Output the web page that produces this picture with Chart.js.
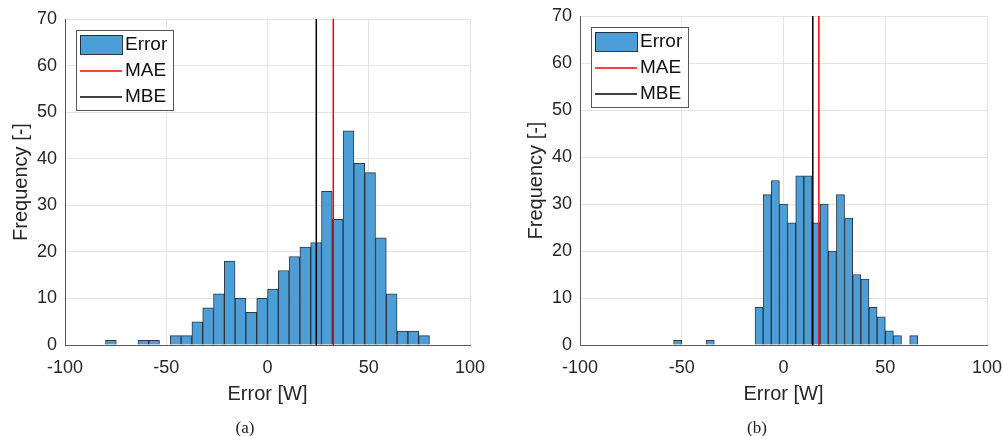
<!DOCTYPE html>
<html><head><meta charset="utf-8">
<script src="https://cdn.jsdelivr.net/npm/chart.js@4"></script>
<style>
html,body{margin:0;padding:0;background:#fff;}
#wrap{position:relative;width:1003px;height:436px;overflow:hidden;background:#fff;}
canvas{position:absolute;left:0;top:0;}
.cap{position:absolute;font-family:"Liberation Serif","DejaVu Serif",serif;font-size:17px;color:#222;transform:translateX(-50%);white-space:nowrap;}
</style></head><body>
<div id="wrap">
<canvas id="ca" width="1003" height="436" style="width:1003px;height:436px"></canvas>
<canvas id="cb" width="1003" height="436" style="width:1003px;height:436px"></canvas>
<div class="cap" style="left:245px;top:418px">(a)</div>
<div class="cap" style="left:757px;top:418px">(b)</div>
</div>
<script>
// (a) histogram: bin centres (bin width 16/3 W) and counts
const binCentersA = [-77.33,-72,-66.67,-61.33,-56,-50.67,-45.33,-40,-34.67,-29.33,-24,-18.67,-13.33,-8,-2.67,2.67,8,13.33,18.67,24,29.33,34.67,40,45.33,50.67,56,61.33,66.67,72,77.33];
const countsA = [1,0,0,1,1,0,2,2,5,8,11,18,10,7,10,12,16,19,21,22,33,27,46,39,37,23,11,3,3,2];
const maeA = 32.5;
const mbeA = 24.1;

// (b) histogram: bin centres (bin width 4 W) and counts
const binCentersB = [-52,-48,-44,-40,-36,-32,-28,-24,-20,-16,-12,-8,-4,0,4,8,12,16,20,24,28,32,36,40,44,48,52,56,60,64];
const countsB = [1,0,0,0,1,0,0,0,0,0,8,32,35,30,26,36,36,26,30,20,32,27,15,14,8,6,3,2,0,2];
const maeB = 17.4;
const mbeB = 14.4;

const xTicks = [-100,-50,0,50,100];
const yTicks = [0,10,20,30,40,50,60,70];
const legendLabels = ['Error','MAE','MBE'];

const FONT = '"Liberation Sans", Arial, sans-serif';
const BAR_FILL = '#4d9dd6';
const BAR_EDGE = 'rgba(25,35,45,0.9)';
const TXT = '#262626';

function legendPlugin(id) {
  return {
    id: 'boxLegend' + id,
    afterDraw(chart) {
      const ctx = chart.ctx, a = chart.chartArea;
      const x = a.left + 11, y = a.top + 11, w = 97, h = 80;
      ctx.save();
      ctx.fillStyle = '#fff';
      ctx.fillRect(x, y, w, h);
      ctx.strokeStyle = '#555';
      ctx.lineWidth = 1;
      ctx.strokeRect(x + 0.5, y + 0.5, w, h);
      ctx.fillStyle = BAR_FILL;
      ctx.fillRect(x + 4, y + 5, 42, 19);
      ctx.strokeStyle = BAR_EDGE;
      ctx.strokeRect(x + 4.5, y + 5.5, 42, 19);
      ctx.lineWidth = 1.5;
      ctx.strokeStyle = '#ff0000';
      ctx.beginPath(); ctx.moveTo(x + 4, y + 41); ctx.lineTo(x + 46, y + 41); ctx.stroke();
      ctx.strokeStyle = '#000';
      ctx.beginPath(); ctx.moveTo(x + 4, y + 67); ctx.lineTo(x + 46, y + 67); ctx.stroke();
      ctx.fillStyle = '#111';
      ctx.font = '19px ' + FONT;
      ctx.textBaseline = 'middle';
      ctx.textAlign = 'left';
      ctx.fillText(legendLabels[0], x + 49, y + 15);
      ctx.fillText(legendLabels[1], x + 49, y + 41);
      ctx.fillText(legendLabels[2], x + 49, y + 67);
      ctx.restore();
    }
  };
}

function makeChart(canvasId, centers, counts, mae, mbe, pad) {
  return new Chart(document.getElementById(canvasId), {
    data: {
      datasets: [
        { type: 'line', label: legendLabels[1], data: [{x: mae, y: 0}, {x: mae, y: 70}],
          borderColor: '#ff0000', borderWidth: 1.5, pointRadius: 0, order: 0 },
        { type: 'line', label: legendLabels[2], data: [{x: mbe, y: 0}, {x: mbe, y: 70}],
          borderColor: '#000000', borderWidth: 1.5, pointRadius: 0, order: 0 },
        { type: 'bar', label: legendLabels[0], data: centers.map((c, i) => ({x: c, y: counts[i]})),
          backgroundColor: BAR_FILL, borderColor: BAR_EDGE, borderWidth: 1, borderSkipped: 'start',
          barPercentage: 1, categoryPercentage: 1, grouped: false, order: 1 }
      ]
    },
    options: {
      responsive: false,
      animation: false,
      devicePixelRatio: 1,
      layout: { padding: pad },
      plugins: { legend: { display: false }, tooltip: { enabled: false } },
      scales: {
        x: {
          type: 'linear', min: -100, max: 100, offset: false,
          afterBuildTicks: s => { s.ticks = xTicks.map(v => ({value: v})); },
          afterFit: s => { s.height = 65; s.paddingLeft = 0; s.paddingRight = 0; },
          grid: { color: '#e3e3e3', drawTicks: false, offset: false },
          border: { color: '#5a5a5a', width: 1 },
          ticks: { color: TXT, font: { family: FONT, size: 18 }, padding: 12, maxRotation: 0 },
          title: { display: true, text: 'Error [W]', color: TXT, font: { family: FONT, size: 20 }, padding: { top: 0, bottom: 4 } }
        },
        y: {
          type: 'linear', min: 0, max: 70,
          afterBuildTicks: s => { s.ticks = yTicks.map(v => ({value: v})); },
          afterFit: s => { s.width = 65; s.paddingTop = 0; s.paddingBottom = 0; },
          grid: { color: '#e3e3e3', drawTicks: false },
          border: { color: '#5a5a5a', width: 1 },
          ticks: { color: TXT, font: { family: FONT, size: 18 }, padding: 8 },
          title: { display: true, text: 'Frequency [-]', color: TXT, font: { family: FONT, size: 20 }, padding: { top: 9, bottom: 0 } }
        }
      }
    },
    plugins: [legendPlugin(canvasId)]
  });
}

makeChart('ca', binCentersA, countsA, maeA, mbeA, {left: 0, top: 19, right: 533, bottom: 26});
makeChart('cb', binCentersB, countsB, maeB, mbeB, {left: 515, top: 16, right: 16, bottom: 26});
</script>
</body></html>
